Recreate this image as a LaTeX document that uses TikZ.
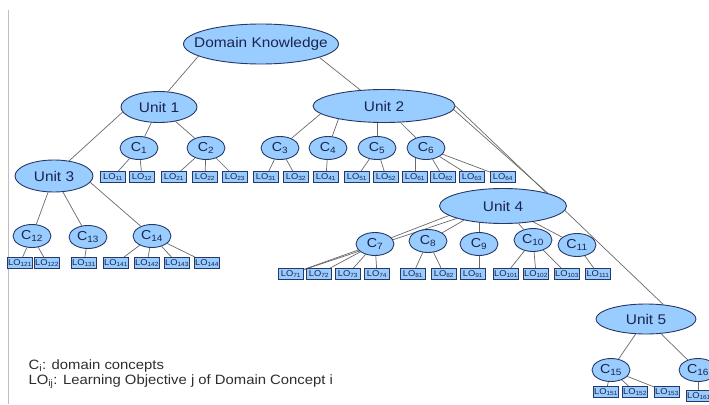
\documentclass[tikz,border=0pt]{standalone}
\usepackage{fontspec}
\setmainfont{Liberation Sans}[FakeStretch=1.1]
\usetikzlibrary{shapes.geometric, backgrounds}
\definecolor{NodeBlue}{RGB}{153, 204, 255}
\definecolor{RimNavy}{RGB}{38, 56, 104}
\definecolor{InkNavy}{RGB}{28, 36, 80}
\definecolor{WireGray}{RGB}{105, 105, 105}
\definecolor{FrameGray}{RGB}{190, 190, 190}
\definecolor{KeyGray}{RGB}{45, 45, 45}
\newcommand{\lobj}[1]{LO\textsubscript{#1}}
\newcommand{\cpt}[1]{C\textsubscript{#1}}

\begin{document}
\begin{tikzpicture}[x=1pt, y=-1pt,
    unit/.style={ellipse, draw=RimNavy, fill=NodeBlue, line width=0.9pt, inner sep=0pt, text=InkNavy, font=\fontsize{14}{16}\selectfont},
    concept/.style={ellipse, draw=RimNavy, fill=NodeBlue, line width=0.9pt, inner sep=0pt, minimum width=38pt, minimum height=23pt, text=InkNavy, font=\fontsize{13}{15}\selectfont},
    obj/.style={rectangle, draw=RimNavy, fill=NodeBlue, line width=0.8pt, inner sep=0pt, minimum width=25pt, minimum height=11pt, text=InkNavy, font=\fontsize{8.5}{9}\selectfont},
    link/.style={draw=WireGray, line width=0.7pt}
]
\clip (0,0) rectangle (709,404);
\draw[FrameGray, line width=0.8pt] (8,10) -- (8,404);

% units
\node[unit, minimum width=155pt, minimum height=40pt, inner xsep=-12pt] (dk) at (261,44) {Domain Knowledge};
\node[unit, minimum width=76pt, minimum height=31pt] (unitA) at (159,107) {Unit 1};
\node[unit, minimum width=142pt, minimum height=33pt] (unitB) at (384,106) {Unit 2};
\node[unit, minimum width=78pt, minimum height=32pt] (unitC) at (54,176) {Unit 3};
\node[unit, minimum width=127pt, minimum height=35pt] (unitD) at (503,206) {Unit 4};
\node[unit, minimum width=100pt, minimum height=30pt] (unitE) at (646,319) {Unit 5};

% concepts
\node[concept] (c1) at (139,148) {\cpt{1}};
\node[concept] (c2) at (206,148) {\cpt{2}};
\node[concept] (c3) at (280,148) {\cpt{3}};
\node[concept] (c4) at (328,148) {\cpt{4}};
\node[concept] (c5) at (377,148) {\cpt{5}};
\node[concept] (c6) at (426,148) {\cpt{6}};
\node[concept] (c12) at (32,236) {\cpt{12}};
\node[concept] (c13) at (88,237) {\cpt{13}};
\node[concept] (c14) at (152,236) {\cpt{14}};
\node[concept] (c7) at (375,244) {\cpt{7}};
\node[concept] (c8) at (428,241) {\cpt{8}};
\node[concept] (c9) at (479,244) {\cpt{9}};
\node[concept] (c10) at (533,240) {\cpt{10}};
\node[concept] (c11) at (577,245) {\cpt{11}};
\node[concept] (c15) at (611,370) {\cpt{15}};
\node[concept] (c16) at (698,370) {\cpt{16}};

% learning objectives
\node[obj] (lo11) at (113,177) {\lobj{11}};
\node[obj] (lo12) at (142,177) {\lobj{12}};
\node[obj] (lo21) at (174,177) {\lobj{21}};
\node[obj] (lo22) at (205,177) {\lobj{22}};
\node[obj] (lo23) at (235,177) {\lobj{23}};
\node[obj] (lo31) at (266,177) {\lobj{31}};
\node[obj] (lo32) at (296,177) {\lobj{32}};
\node[obj] (lo41) at (326,177) {\lobj{41}};
\node[obj] (lo51) at (357,177) {\lobj{51}};
\node[obj] (lo52) at (386,177) {\lobj{52}};
\node[obj] (lo61) at (415,177) {\lobj{61}};
\node[obj] (lo62) at (443,177) {\lobj{62}};
\node[obj] (lo63) at (472,177) {\lobj{63}};
\node[obj] (lo64) at (503,177) {\lobj{64}};
\node[obj] (lo121) at (20,263) {\lobj{121}};
\node[obj] (lo122) at (47,263) {\lobj{122}};
\node[obj] (lo131) at (84,263) {\lobj{131}};
\node[obj] (lo141) at (116,263) {\lobj{141}};
\node[obj] (lo142) at (147,263) {\lobj{142}};
\node[obj] (lo143) at (177,263) {\lobj{143}};
\node[obj] (lo144) at (207,263) {\lobj{144}};
\node[obj] (lo71) at (291,274) {\lobj{71}};
\node[obj] (lo72) at (319,274) {\lobj{72}};
\node[obj] (lo73) at (348,274) {\lobj{73}};
\node[obj] (lo74) at (377,274) {\lobj{74}};
\node[obj] (lo81) at (413,274) {\lobj{81}};
\node[obj] (lo82) at (444,274) {\lobj{82}};
\node[obj] (lo91) at (473,274) {\lobj{91}};
\node[obj] (lo101) at (506,274) {\lobj{101}};
\node[obj] (lo102) at (536,274) {\lobj{102}};
\node[obj] (lo103) at (567,274) {\lobj{103}};
\node[obj] (lo111) at (598,274) {\lobj{111}};
\node[obj] (lo151) at (606,392) {\lobj{151}};
\node[obj] (lo152) at (635,392) {\lobj{152}};
\node[obj] (lo153) at (667,392) {\lobj{153}};
\node[obj] (lo161) at (699,396) {\lobj{161}};

% connectors
\begin{scope}[on background layer]
\draw[link] (dk.191) -- (unitA.60);
\draw[link] (dk.-13) -- (unitB.146);
\draw[link] (unitA.188) -- (unitC.45);
\draw[link] (unitA) -- (c1);
\draw[link] (unitA) -- (c2);
\draw[link] (c1) -- (lo11);
\draw[link] (c1) -- (lo12);
\draw[link] (c2) -- (lo21);
\draw[link] (c2) -- (lo22);
\draw[link] (c2) -- (lo23);
\draw[link] (unitB.187) -- (c3);
\draw[link] (unitB.196) -- (c4);
\draw[link] (c5) -- (c5 |- unitB);
\draw[link] (unitB) -- (c6);
\draw[link] (unitB.-3) -- (unitD.16);
\draw[link] (unitB.east) -- (unitE.40);
\draw[link] (c3) -- (lo31);
\draw[link] (c3) -- (lo32);
\draw[link] (c4) -- (lo41);
\draw[link] (c5) -- (lo51);
\draw[link] (c5) -- (lo52);
\draw[link] (lo61) -- (lo61 |- c6);
\draw[link] (c6) -- (lo62);
\draw[link] (c6) -- (lo63);
\draw[link] (c6) -- (lo64);
\draw[link] (unitC) -- (c12);
\draw[link] (unitC) -- (c13);
\draw[link] (unitC.-10) -- (c14);
\draw[link] (c12) -- (lo121);
\draw[link] (c12) -- (lo122);
\draw[link] (c13) -- (lo131);
\draw[link] (c14) -- (lo141);
\draw[link] (c14) -- (lo142);
\draw[link] (c14) -- (lo143);
\draw[link] (c14) -- (lo144);
\draw[link] (unitD.190) -- (c7);
\draw[link] (unitD.195) -- (lo71);
\draw[link] (unitD.200) -- (c8);
\draw[link] (c9) -- (c9 |- unitD);
\draw[link] (unitD) -- (c10);
\draw[link] (unitD) -- (c11);
\draw[link] (c7) -- (lo71);
\draw[link] (c7) -- (lo72);
\draw[link] (c7) -- (lo73);
\draw[link] (c7) -- (lo74);
\draw[link] (c8) -- (lo81);
\draw[link] (c8) -- (lo82);
\draw[link] (c9) -- (c9 |- lo91);
\draw[link] (c10) -- (lo101);
\draw[link] (c10) -- (lo102);
\draw[link] (c10) -- (lo103);
\draw[link] (c11) -- (lo111);
\draw[link] (unitE) -- (c15);
\draw[link] (unitE) -- (c16);
\draw[link] (c15) -- (lo151);
\draw[link] (c15) -- (lo152);
\draw[link] (c15) -- (lo153);
\draw[link] (c16) -- (c16 |- lo161);
\end{scope}

% key
\node[anchor=base west, text=KeyGray, font=\fontsize{13.5}{14}\selectfont] (keyC) at (25,369) {\cpt{i}: domain concepts};
\node[anchor=base west, text=KeyGray, font=\fontsize{13.5}{14}\selectfont] (keyLO) at (25,384) {\lobj{ij}: Learning Objective j of Domain Concept i};
\end{tikzpicture}
\end{document}
